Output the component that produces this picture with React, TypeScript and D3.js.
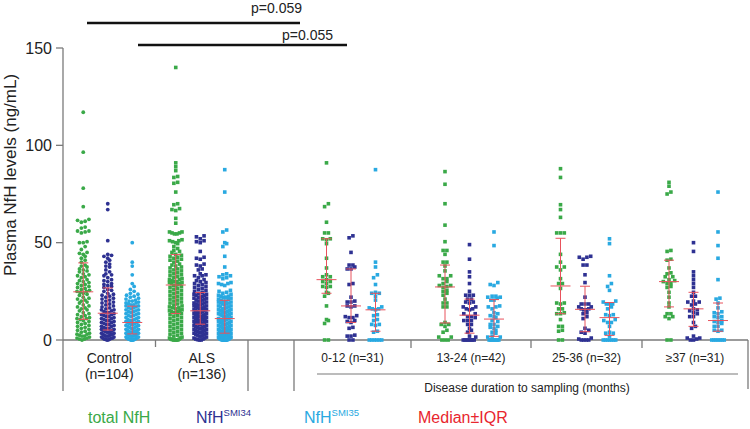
import React from "react";
import * as d3 from "d3";

// ---------- categories / labels ----------
const leftGroups = ["Control", "ALS"];
const leftGroupN = ["(n=104)", "(n=136)"];
const durationGroups = ["0-12", "13-24", "25-36", "≥37"];
const durationN = [31, 42, 32, 31];
const seriesKeys = ["total", "SMI34", "SMI35"];
const seriesColors = ["#3aa948", "#2e3192", "#29a9e1"];
const yTicks = [0, 50, 100, 150];
const pValues = ["p=0.059", "p=0.055"];

// ---------- values (ng/mL) ----------
const controlTotal = [117, 96.5, 78, 68.5, 62, 61.5, 61, 60.5, 58, 57.5, 56, 56, 55.5, 55, 50.5, 50, 50, 48, 46.5, 45, 44.5, 44, 43, 42, 41, 40, 38.5, 38, 37.5, 36.5, 36, 35.5, 35, 34, 33.5, 33, 32.5, 32, 31, 30.5, 30, 29.5, 29, 28.5, 28, 27.5, 27, 26.5, 26, 25.5, 25, 25, 24.5, 24, 23.5, 23, 22, 21.5, 21, 20.5, 20, 19.5, 19, 18, 17.5, 17, 16.5, 16, 15.5, 15, 14, 13.5, 13, 12.5, 12, 11.5, 11, 11, 10.5, 10, 9.5, 9, 8.5, 8, 7.5, 7, 6.5, 6, 5.5, 5, 4.5, 4, 3.5, 3, 3, 2.5, 2, 2, 1.5, 1, 1, 0.5, 0.5, 0];
const controlSMI34 = [70, 67, 51, 44, 43.5, 43, 42, 41, 40, 39, 38, 37.5, 36, 35, 34, 33.5, 33, 32, 31, 30.5, 30, 29, 28.5, 28, 27.5, 27, 26, 25.5, 25, 24, 23.5, 23, 22.5, 22, 21.5, 21, 20.5, 20, 19.5, 19, 18.5, 18, 17.5, 17, 16.5, 16, 15.5, 15.5, 15, 14.5, 14, 14, 13.5, 13, 13, 12.5, 12, 12, 11.5, 11, 11, 10.5, 10, 10, 9.5, 9, 9, 8.5, 8, 8, 7.5, 7, 7, 6.5, 6, 6, 5.5, 5.5, 5, 5, 4.5, 4.5, 4, 4, 3.5, 3.5, 3, 3, 3, 2.5, 2.5, 2, 2, 2, 1.5, 1.5, 1, 1, 1, 0.5, 0.5, 0.3, 0.1, 0];
const controlSMI35 = [50, 40, 38, 33.5, 29, 27.5, 26, 25, 24, 23.5, 23, 22.5, 22, 21.5, 21, 20.5, 20, 20, 19.5, 19, 19, 18.5, 18, 18, 17.5, 17.5, 17, 16.5, 16.5, 16, 15.5, 15.5, 15, 14.5, 14.5, 14, 13.5, 13.5, 13, 12.5, 12.5, 12, 11.5, 11.5, 11, 10.5, 10.5, 10, 10, 9.5, 9.5, 9, 9, 8.5, 8.5, 8, 8, 7.5, 7.5, 7, 7, 6.5, 6.5, 6, 6, 5.5, 5.5, 5, 5, 4.5, 4.5, 4.5, 4, 4, 4, 3.5, 3.5, 3.5, 3, 3, 3, 2.5, 2.5, 2.5, 2, 2, 2, 2, 1.5, 1.5, 1.5, 1, 1, 1, 1, 0.5, 0.5, 0.5, 0.3, 0.2, 0.1, 0, 0, 0];
const alsTotal = [140, 91, 89, 87, 84, 83.5, 81, 80.5, 76, 70, 69.5, 67.5, 67, 66.5, 62.5, 60, 55.5, 55.5, 55, 55, 54.5, 54.5, 51.5, 51, 51, 50.5, 50, 49.5, 48, 47, 46, 45.5, 45, 44, 43.5, 43, 42.5, 42, 41.5, 41, 40.5, 40, 39, 38.5, 38, 37.5, 37, 36.5, 36, 35.5, 35, 34.5, 34, 33.5, 33, 32.5, 32, 31.5, 31, 31, 30.5, 30, 30, 29.5, 29.5, 29, 29, 28.5, 28, 28, 27.5, 27, 26.5, 26, 25.5, 25, 24.5, 24, 23.5, 23, 22.5, 22, 21.5, 21, 20.5, 20, 19.5, 19, 18.5, 18, 17.5, 17, 16.5, 16.5, 16, 15.5, 15, 15, 14.5, 14.5, 14, 14, 13.5, 13, 12.5, 12, 11.5, 11, 10.5, 10, 9.5, 9, 8.5, 8, 7.5, 7, 6.5, 6, 5.5, 5, 4.5, 4, 3.5, 3, 2.5, 2, 1.5, 1, 1, 0.5, 0.5, 0.2, 0, 0, 0, 0];
const alsSMI34 = [53.5, 53, 52, 51, 50.5, 50, 45.5, 42.5, 42, 41.5, 39, 38.5, 38, 36.5, 36, 34, 33.5, 33, 33, 32, 31, 30.5, 30, 29.5, 29, 28.5, 28, 27.5, 27, 26.5, 26, 25.5, 25, 24.5, 24, 23.5, 23.5, 23, 23, 22.5, 22, 22, 21.5, 21.5, 21, 20.5, 20.5, 20, 20, 19.5, 19, 19, 18.5, 18.5, 18, 18, 17.5, 17.5, 17, 17, 16.5, 16.5, 16, 16, 15.5, 15.5, 15.5, 15, 15, 14.5, 14.5, 14, 14, 14, 13.5, 13.5, 13, 13, 12.5, 12.5, 12, 12, 12, 11.5, 11.5, 11, 11, 10.5, 10.5, 10.5, 10, 10, 9.5, 9.5, 9.5, 9, 9, 9, 8.5, 8.5, 8.5, 8.5, 8, 8, 7.5, 7.5, 7, 7, 6.5, 6.5, 6, 6, 5.5, 5.5, 5, 5, 4.5, 4.5, 4, 4, 3.5, 3.5, 3, 3, 2.5, 2.5, 2, 2, 1.5, 1, 1, 0.5, 0.5, 0.2, 0, 0];
const alsSMI35 = [87.5, 76, 56.5, 55.5, 50, 49.5, 48, 43, 37.5, 34, 33.5, 33, 32.5, 32, 31.5, 29.5, 29, 29, 28.5, 28, 25.5, 25, 24.5, 24, 23.5, 23, 22.5, 22.5, 22, 22, 21.5, 21, 21, 20.5, 20, 20, 19.5, 19.5, 19, 19, 18.5, 18.5, 18, 17.5, 17.5, 17, 17, 16.5, 16, 16, 15.5, 15.5, 15, 15, 14.5, 14.5, 14, 14, 13.5, 13.5, 13, 13, 12.5, 12.5, 12, 12, 11.5, 11, 11, 10.5, 10.5, 10, 10, 9.5, 9.5, 9, 9, 8.5, 8.5, 8, 8, 7.5, 7.5, 7, 7, 6.5, 6.5, 6, 6, 5.5, 5.5, 5, 5, 5, 4.5, 4.5, 4.5, 4, 4, 4, 3.5, 3.5, 3.5, 3, 3, 3, 2.5, 2.5, 2.5, 2, 2, 2, 2, 1.5, 1.5, 1.5, 1, 1, 1, 1, 0.5, 0.5, 0.5, 0.4, 0.3, 0.3, 0.2, 0.2, 0.1, 0.1, 0, 0, 0, 0, 0, 0];

const d0012Total = [91, 70, 68.5, 60.5, 55, 55, 52, 52, 51.5, 49.5, 42, 37, 33.5, 32.5, 32.5, 31, 30, 30, 29, 27.5, 27.5, 27, 24.5, 24, 22.5, 17.5, 10.5, 10, 8.5, 0, 0];
const d0012SMI34 = [53.5, 52.5, 45, 38.5, 38.5, 37.5, 36.5, 36.5, 29, 28.5, 22, 20, 19.5, 19.5, 17.5, 17.5, 17, 12.5, 12, 11.5, 11.5, 10, 9.5, 9, 6.5, 6, 2.5, 2, 2, 0, 0];
const d0012SMI35 = [87.5, 40, 37.5, 33.5, 32, 28.5, 24.5, 24, 24, 22.5, 20.5, 17, 16.5, 16, 16, 15.5, 13, 12.5, 10.5, 10, 8, 8, 7.5, 4.5, 4, 0, 0, 0, 0, 0, 0];
const d1324Total = [86.5, 80, 70, 59, 50.5, 46, 46, 44, 40, 40, 38, 35.5, 33, 33, 31.5, 31.5, 30, 29, 28, 28, 27.5, 27, 25.5, 25, 24, 23, 21, 19, 19, 17, 17, 8, 7, 9, 8, 5, 4, 1.5, 1.5, 0, 0, 0];
const d1324SMI34 = [49, 41.5, 35, 32.5, 29, 25, 23, 23, 23, 21, 21, 19.5, 19.5, 19, 17, 17, 16, 16, 15.5, 13.5, 13.5, 12, 12, 11.5, 10, 10, 10, 8, 8, 6, 5, 4, 2, 1.5, 0, 0, 0, 0, 0, 0, 0, 0];
const d1324SMI35 = [55.5, 48.5, 29.5, 28.5, 28, 22.5, 22.5, 22, 22, 21.5, 20.5, 20.5, 17.5, 17, 17, 16, 14, 13.5, 12.5, 12, 11.5, 10, 9.5, 8, 8, 7, 6.5, 6, 5, 4, 3.5, 2, 1.5, 1.5, 0, 0, 0, 0, 0, 0, 0, 0];
const d2536Total = [88, 83.5, 69.5, 67, 63, 55, 55, 55, 44, 40, 37.5, 37.5, 36, 31.5, 29, 29, 26.5, 19, 19, 18.5, 16, 16, 14, 13.5, 13.5, 10.5, 7, 7, 5, 4.5, 0, 0];
const d2536SMI34 = [43, 42.5, 42.5, 41.5, 38.5, 38.5, 33.5, 29.5, 22, 18.5, 18.5, 18.5, 17, 17, 16, 16, 15.5, 15.5, 14, 13.5, 12, 11, 6, 5, 4, 3.5, 1, 0.5, 0, 0, 0, 0];
const d2536SMI35 = [52, 49.5, 33, 29, 27.5, 25.5, 20, 19.5, 18.5, 18.5, 18.5, 17, 16, 13, 13, 12.5, 10.5, 10, 9, 9, 7, 4, 3.5, 3.5, 2, 0, 0, 0, 0, 0, 0, 0];
const d37Total = [81, 79, 76, 75, 46, 45.5, 41.5, 41, 37, 34.5, 34, 32.5, 32.5, 31, 30.5, 30, 29, 29, 27.5, 27, 24.5, 22, 19, 17, 13.5, 13.5, 12, 12, 11, 0, 0];
const d37SMI34 = [50, 45.5, 35, 33, 31, 29, 27, 24.5, 22.5, 22.5, 20, 19.5, 19.5, 18.5, 18, 16, 15.5, 15, 14, 13.5, 12, 12, 9, 7, 6, 2, 1, 1, 0.5, 0, 0];
const d37SMI35 = [76, 55.5, 48.5, 42, 31, 21.5, 21, 19, 16.5, 14.5, 14, 13.5, 12, 12, 11.5, 10, 9.5, 9, 8.5, 7, 7, 5, 5, 4.5, 0, 0, 0, 0, 0, 0, 0];

const leftValues = [
  [controlTotal, controlSMI34, controlSMI35],
  [alsTotal, alsSMI34, alsSMI35],
];
const durationValues = [
  [d0012Total, d0012SMI34, d0012SMI35],
  [d1324Total, d1324SMI34, d1324SMI35],
  [d2536Total, d2536SMI34, d2536SMI35],
  [d37Total, d37SMI34, d37SMI35],
];

type Pt = { v: number; cy: number; dx: number };

// Prism-like row scatter: points close in y share a row, spread symmetrically
function layoutRows(values: number[], y: (v: number) => number, rowH: number, step: number, maxSpan: number): Pt[] {
  const pts: Pt[] = values.map((v) => ({ v, cy: y(v), dx: 0 })).sort((a, b) => a.v - b.v);
  const rows: Pt[][] = [];
  let cur: Pt[] | null = null;
  for (const p of pts) {
    if (!cur || Math.abs(p.cy - cur[0].cy) >= rowH) {
      cur = [p];
      rows.push(cur);
    } else cur.push(p);
  }
  rows.forEach((row) => {
    const n = row.length;
    const sp = n > 1 ? Math.min(step, maxSpan / (n - 1)) : 0;
    const slots = d3.range(n).map((i) => (i - (n - 1) / 2) * sp);
    slots.sort((a, b) => Math.abs(a) - Math.abs(b) || a - b);
    row.forEach((p, i) => (p.dx = slots[i]));
  });
  return pts;
}

// quartiles on the (n+1)p rank basis (as GraphPad Prism does)
function prismQuantile(sorted: number[], p: number): number {
  const n = sorted.length;
  const h = Math.min(Math.max((n + 1) * p, 1), n) - 1;
  const lo = Math.floor(h);
  const hi = Math.min(lo + 1, n - 1);
  return sorted[lo] + (h - lo) * (sorted[hi] - sorted[lo]);
}

const FONT = "'Liberation Sans', Arial, Helvetica, sans-serif";

export default function App() {
  const W = 750;
  const H = 429;
  const y = d3.scaleLinear().domain([0, 150]).range([340, 48]);
  const xLeft = d3.scaleBand<string>().domain(leftGroups).range([63, 248]);
  const xDur = d3.scaleLinear().domain([0, 1, 2, 3, 4]).range([294, 411, 531, 642, 748]);
  const off = d3.scalePoint<string>().domain(seriesKeys).range([-26, 23]);
  const axisColor = "#7a7a7a";
  const iqrColor = "#e8525c";

  const columns: { cx: number; vals: number[]; color: string; round: boolean }[] = [];
  leftGroups.forEach((g, gi) => {
    const c = (xLeft(g) as number) + xLeft.bandwidth() / 2;
    seriesKeys.forEach((s, si) =>
      columns.push({ cx: c + (off(s) as number), vals: leftValues[gi][si], color: seriesColors[si], round: gi === 0 })
    );
  });
  durationGroups.forEach((g, gi) => {
    const c = xDur(gi + 0.5);
    seriesKeys.forEach((s, si) =>
      columns.push({ cx: c + (off(s) as number), vals: durationValues[gi][si], color: seriesColors[si], round: false })
    );
  });

  const sz = 3.6;

  return (
    <div style={{ position: "fixed", left: 0, top: 0 }}>
      <svg width={W} height={H} style={{ display: "block", background: "#fff" }} fontFamily={FONT}>
        {/* p-value brackets */}
        <line x1={87} x2={300} y1={23} y2={23} stroke="#111" strokeWidth={2.4} />
        <text x={302} y={13} textAnchor="end" fontSize={14} fill="#222">{pValues[0]}</text>
        <line x1={138} x2={347} y1={45} y2={45} stroke="#111" strokeWidth={2.4} />
        <text x={333} y={39.5} textAnchor="end" fontSize={14} fill="#222">{pValues[1]}</text>

        {/* y axis */}
        <line x1={63} x2={63} y1={y(150)} y2={391} stroke={axisColor} strokeWidth={1.3} />
        {yTicks.map((t) => (
          <g key={t}>
            <line x1={56} x2={63} y1={y(t)} y2={y(t)} stroke={axisColor} strokeWidth={1.3} />
            <text x={52} y={y(t)} dy="0.36em" textAnchor="end" fontSize={16} fill="#222">{t}</text>
          </g>
        ))}
        <text transform={`translate(15.5,${175}) rotate(-90)`} textAnchor="middle" fontSize={17} fill="#222">
          Plasma NfH levels (ng/mL)
        </text>

        {/* x axis */}
        <line x1={63} x2={748} y1={y(0)} y2={y(0)} stroke={axisColor} strokeWidth={1.3} />
        <line x1={xLeft("ALS") as number} x2={xLeft("ALS") as number} y1={y(0)} y2={y(0) + 7} stroke={axisColor} strokeWidth={1.3} />
        <line x1={248} x2={248} y1={y(0)} y2={391} stroke={axisColor} strokeWidth={1.3} />
        <line x1={xDur(0)} x2={xDur(0)} y1={y(0)} y2={391} stroke={axisColor} strokeWidth={1.3} />
        <line x1={xDur(4)} x2={xDur(4)} y1={y(0)} y2={389} stroke={axisColor} strokeWidth={1.3} />
        {[1, 2, 3].map((i) => (
          <line key={i} x1={xDur(i)} x2={xDur(i)} y1={y(0)} y2={y(0) + 8} stroke={axisColor} strokeWidth={1.3} />
        ))}
        {leftGroups.map((g, gi) => {
          const c = (xLeft(g) as number) + xLeft.bandwidth() / 2;
          return (
            <g key={g}>
              <text x={c} y={363} textAnchor="middle" fontSize={14} fill="#222">{g}</text>
              <text x={c} y={379} textAnchor="middle" fontSize={14} fill="#222">{leftGroupN[gi]}</text>
            </g>
          );
        })}
        {durationGroups.map((g, gi) => (
          <text key={g} x={xDur(gi + 0.5)} y={362} textAnchor="middle" fontSize={12} fill="#222">
            {`${g} (n=${durationN[gi]})`}
          </text>
        ))}
        <line x1={317} x2={738} y1={374} y2={374} stroke={axisColor} strokeWidth={1.1} />
        <text x={527} y={392} textAnchor="middle" fontSize={12} fill="#222">Disease duration to sampling (months)</text>

        {/* points */}
        {columns.map((col, ci) => {
          const pts = layoutRows(col.vals, y, 3.8, 3.8, 12.5);
          return (
            <g key={ci} fill={col.color}>
              {pts.map((p, i) =>
                col.round ? (
                  <circle key={i} cx={col.cx + p.dx} cy={p.cy} r={1.9} />
                ) : (
                  <rect key={i} x={col.cx + p.dx - sz / 2} y={p.cy - sz / 2} width={sz} height={sz} />
                )
              )}
            </g>
          );
        })}

        {/* median ± IQR */}
        {columns.map((col, ci) => {
          const s = col.vals.slice().sort(d3.ascending);
          const q1 = prismQuantile(s, 0.25);
          const md = d3.median(s) as number;
          const q3 = prismQuantile(s, 0.75);
          return (
            <g key={ci} stroke={iqrColor} strokeWidth={1}>
              <line x1={col.cx} x2={col.cx} y1={y(q1)} y2={y(q3)} />
              <line x1={col.cx - 10} x2={col.cx + 10} y1={y(md)} y2={y(md)} />
              <line x1={col.cx - 5} x2={col.cx + 5} y1={y(q1)} y2={y(q1)} />
              <line x1={col.cx - 5} x2={col.cx + 5} y1={y(q3)} y2={y(q3)} />
            </g>
          );
        })}

        {/* legend */}
        <text x={88} y={423} fontSize={16} fill={seriesColors[0]}>total NfH</text>
        <text x={196} y={423} fontSize={16} fill={seriesColors[1]}>
          NfH<tspan fontSize={9.5} dy={-7}>SMI34</tspan>
        </text>
        <text x={304} y={423} fontSize={16} fill={seriesColors[2]}>
          NfH<tspan fontSize={9.5} dy={-7}>SMI35</tspan>
        </text>
        <text x={418} y={423} fontSize={16} fill="#e8262e">Median±IQR</text>
      </svg>
    </div>
  );
}
